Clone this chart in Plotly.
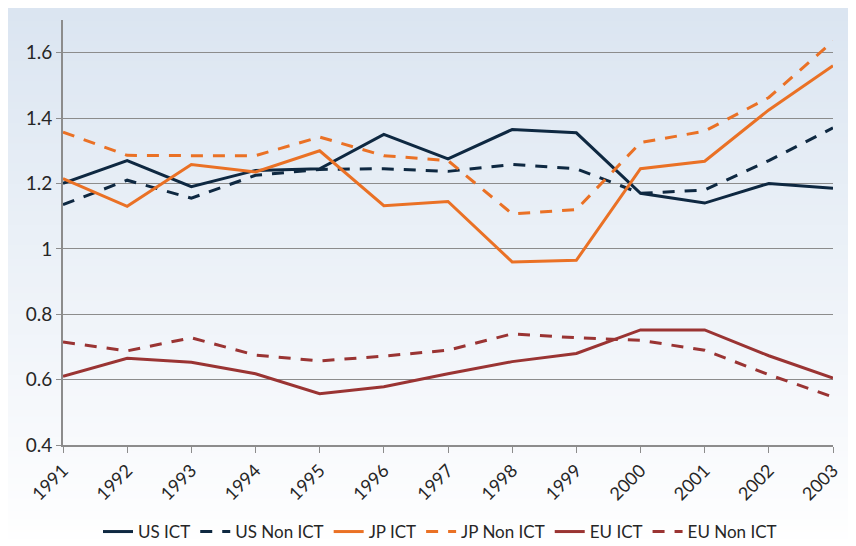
import plotly.graph_objects as go

years = list(range(1991, 2004))
us_ict = [1.20, 1.27, 1.19, 1.24, 1.245, 1.35, 1.275, 1.365, 1.355, 1.17, 1.14, 1.20, 1.185]
us_non_ict = [1.135, 1.21, 1.155, 1.225, 1.243, 1.245, 1.237, 1.258, 1.245, 1.17, 1.18, 1.27, 1.37]
jp_ict = [1.215, 1.13, 1.258, 1.235, 1.30, 1.132, 1.145, 0.96, 0.965, 1.245, 1.268, 1.425, 1.56]
jp_non_ict = [1.357, 1.286, 1.285, 1.285, 1.342, 1.285, 1.27, 1.107, 1.12, 1.325, 1.36, 1.463, 1.635]
eu_ict = [0.61, 0.665, 0.653, 0.618, 0.557, 0.578, 0.618, 0.655, 0.68, 0.752, 0.752, 0.673, 0.605]
eu_non_ict = [0.715, 0.688, 0.728, 0.675, 0.657, 0.672, 0.69, 0.74, 0.728, 0.72, 0.69, 0.615, 0.547]

NAVY = "#0e2841"
ORANGE = "#ea7125"
RED = "#9a3433"
DASH = "12px,10px"

series = [
    ("US ICT", us_ict, NAVY, "solid"),
    ("US Non ICT", us_non_ict, NAVY, DASH),
    ("JP ICT", jp_ict, ORANGE, "solid"),
    ("JP Non ICT", jp_non_ict, ORANGE, DASH),
    ("EU ICT", eu_ict, RED, "solid"),
    ("EU Non ICT", eu_non_ict, RED, DASH),
]

# page has an 8px body offset; margins compensate so the plot lands where the reference has it
W, H = 856, 546
ML, MR, MT, MB = 55, 31, 12, 109
PW, PH = W - ML - MR, H - MT - MB

fig = go.Figure()
for name, vals, col, dash in series:
    fig.add_trace(go.Scatter(x=years, y=vals, name=name, mode="lines",
                             line=dict(color=col, width=3, dash=dash)))

# background gradient across whole figure (light blue top -> white bottom)
shapes = []
n = 80
top = (219, 229, 241)
bot = (255, 255, 255)
y_top = 1 + MT / PH
y_bot = -MB / PH
x_l = -ML / PW - 0.01
x_r = 1 + MR / PW + 0.01
for i in range(n):
    t = i / (n - 1)
    r = round(top[0] + (bot[0] - top[0]) * t)
    g = round(top[1] + (bot[1] - top[1]) * t)
    b = round(top[2] + (bot[2] - top[2]) * t)
    y1 = y_top - (y_top - y_bot) * i / n
    y0 = y_top - (y_top - y_bot) * (i + 1) / n
    shapes.append(dict(type="rect", xref="paper", yref="paper", x0=x_l, x1=x_r,
                       y0=y0 - 0.003, y1=y1 + 0.003, layer="below", line=dict(width=0),
                       fillcolor=f"rgb({r},{g},{b})"))

fig.update_layout(
    width=W, height=H,
    margin=dict(l=ML, r=MR, t=MT, b=MB, autoexpand=False),
    paper_bgcolor="white",
    plot_bgcolor="rgba(0,0,0,0)",
    font=dict(family="Lato, 'Open Sans', sans-serif", size=18, color="#262626"),
    shapes=shapes,
    showlegend=True,
    legend=dict(orientation="h", x=(440 - 8 - ML) / PW, xanchor="center",
                y=-105 / PH, yanchor="bottom",
                font=dict(size=17), bgcolor="rgba(0,0,0,0)", itemwidth=30,
                tracegroupgap=0),
    xaxis=dict(range=[1991, 2003], tickmode="array", tickvals=years,
               ticktext=[str(y) for y in years], tickangle=-45, automargin=False,
               showgrid=False, showline=True, linecolor="#8c8c8c", linewidth=2,
               ticks="outside", ticklen=6, tickcolor="#8c8c8c", zeroline=False,
               tickfont=dict(size=18)),
    yaxis=dict(range=[0.4, 1.7], tickvals=[0.4, 0.6, 0.8, 1.0, 1.2, 1.4, 1.6],
               ticktext=["0.4", "0.6", "0.8", "1", "1.2", "1.4", "1.6"], automargin=False,
               showgrid=True, gridcolor="#8c8c8c", gridwidth=1,
               showline=True, linecolor="#8c8c8c", linewidth=2,
               ticks="outside", ticklen=5, tickcolor="#8c8c8c", zeroline=False,
               tickfont=dict(size=19)),
)

fig.write_html("out.html")
